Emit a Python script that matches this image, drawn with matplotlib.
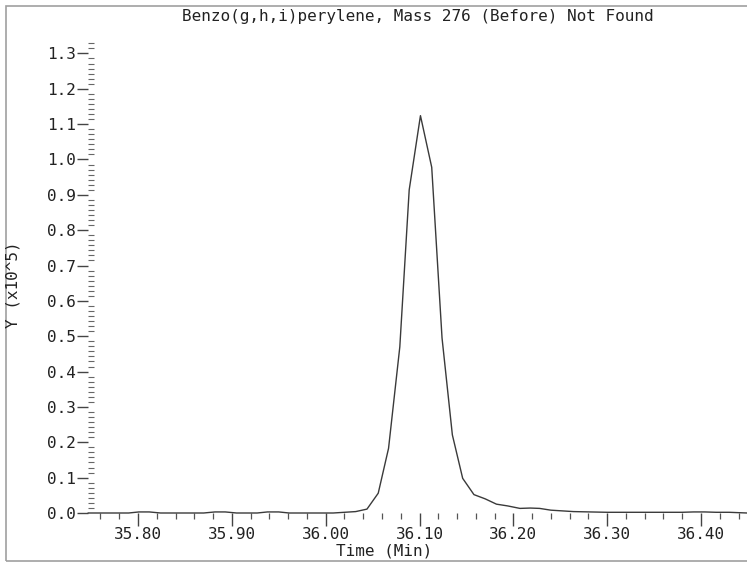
import matplotlib
matplotlib.use("Agg")
import matplotlib.pyplot as plt
from matplotlib.ticker import MultipleLocator, FormatStrFormatter, AutoMinorLocator
from matplotlib.patches import Rectangle

# Data (time in minutes, intensity in 1e5 counts)
time_min = [35.747, 35.790, 35.801, 35.812, 35.824, 35.870, 35.882, 35.893,
            35.905, 35.927, 35.938, 35.950, 35.961, 36.008, 36.020, 36.032,
            36.044, 36.056, 36.067, 36.079, 36.089, 36.101, 36.113, 36.124,
            36.135, 36.146, 36.158, 36.170, 36.182, 36.194, 36.207, 36.218,
            36.228, 36.240, 36.252, 36.264, 36.300, 36.380, 36.392, 36.404,
            36.416, 36.430, 36.449]
intensity = [0.000, 0.000, 0.003, 0.003, 0.000, 0.000, 0.003, 0.003,
             0.000, 0.000, 0.003, 0.003, 0.000, 0.000, 0.002, 0.004,
             0.011, 0.056, 0.183, 0.470, 0.914, 1.124, 0.978, 0.495,
             0.221, 0.098, 0.052, 0.040, 0.025, 0.020, 0.013, 0.014,
             0.013, 0.008, 0.006, 0.004, 0.002, 0.002, 0.003, 0.003,
             0.002, 0.002, 0.000]

title = "Benzo(g,h,i)perylene, Mass 276 (Before) Not Found"
xlabel = "Time (Min)"
ylabel = "Y (x10^5)"

W, H = 747, 562
fig = plt.figure(figsize=(W / 100, H / 100), dpi=100)
fig.patch.set_facecolor("white")

ax_left, ax_right = 88, 747
ax_top, ax_bottom = 40, 513
ax = fig.add_axes([ax_left / W, (H - ax_bottom) / H,
                   (ax_right - ax_left) / W, (ax_bottom - ax_top) / H])

ax.plot(time_min, intensity, color="#3a3a3a", lw=1.0, clip_on=False)

ax.set_xlim(35.7467, 36.449)
ax.set_ylim(0.0, 1.338)

for s in ax.spines.values():
    s.set_visible(False)

mono = "DejaVu Sans Mono"
fs = 11.5

ax.xaxis.set_major_locator(MultipleLocator(0.1))
ax.xaxis.set_minor_locator(MultipleLocator(0.02))
ax.xaxis.set_major_formatter(FormatStrFormatter("%.2f"))
ax.yaxis.set_major_locator(MultipleLocator(0.1))
ax.yaxis.set_minor_locator(AutoMinorLocator(7))
ax.yaxis.set_major_formatter(FormatStrFormatter("%.1f"))

ax.tick_params(axis="x", which="major", direction="out", length=9, width=1,
               color="#444444", pad=1, labelsize=fs)
ax.tick_params(axis="x", which="minor", direction="out", length=4.5, width=0.9,
               color="#555555")
ax.tick_params(axis="y", which="major", direction="out", length=8, width=1,
               color="#444444", pad=1, labelsize=fs)
ax.tick_params(axis="y", which="minor", direction="in", length=4, width=0.8,
               color="#666666")
for lab in ax.get_xticklabels() + ax.get_yticklabels():
    lab.set_family(mono)
    lab.set_color("#222222")

fig.text(418 / W, 1 - 17 / H, title, ha="center", va="center",
         family=mono, fontsize=fs, color="#222222")
fig.text(384 / W, 1 - 551 / H, xlabel, ha="center", va="center",
         family=mono, fontsize=fs, color="#222222")
fig.text(13 / W, 1 - 285 / H, ylabel, ha="center", va="center",
         rotation=90, family=mono, fontsize=fs, color="#222222")

# outer frame (left, top, bottom visible; right edge runs off image)
fig.add_artist(Rectangle((6 / W, 1.0 / H), (W + 10) / W, (H - 6.5) / H,
                         transform=fig.transFigure, fill=False,
                         edgecolor="#a0a0a0", lw=1.2))

fig.savefig("out.png", dpi=100)
